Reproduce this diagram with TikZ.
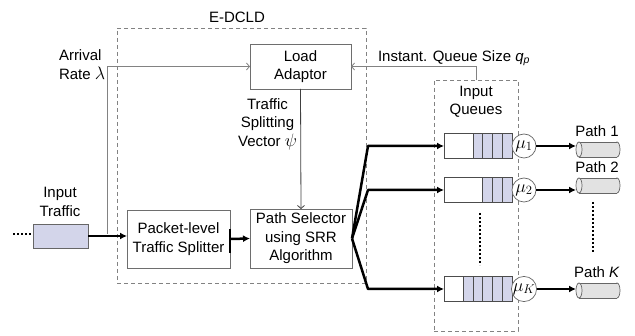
\RequirePackage{fix-cm}
\documentclass[tikz,border=0pt]{standalone}
\usepackage{fontspec}
\setmainfont{Liberation Sans}
\usetikzlibrary{arrows.meta}
\definecolor{lav}{RGB}{211,213,234}
\definecolor{cylc}{RGB}{226,226,226}
\definecolor{boxc}{RGB}{110,110,110}
\definecolor{dashc}{RGB}{130,130,130}
\newcommand\qcells[2]{%
  \fill[lav] ([xshift=-#2*9.75pt]#1.north east) rectangle (#1.south east);
  \foreach \k in {1,...,#2}{\draw[qline] ([xshift=-\k*9.75pt]#1.north east) -- ([xshift=-\k*9.75pt]#1.south east);}
  \draw[qline] (#1.north west) rectangle (#1.south east);}
\newcommand\cylshape[1]{%
  \filldraw[cylline, fill=cylc] ([xshift=-3pt]#1.east) ellipse[x radius=3pt, y radius=7.5pt];
  \fill[cylc] ([xshift=3pt]#1.north west) rectangle ([xshift=-3pt]#1.south east);
  \draw[cylline] ([xshift=3pt]#1.north west) -- ([xshift=-3pt]#1.north east)
                 ([xshift=3pt]#1.south west) -- ([xshift=-3pt]#1.south east);
  \filldraw[cylline, fill=cylc!70!white] ([xshift=3pt]#1.west) ellipse[x radius=3pt, y radius=7.5pt];}
\newcommand\lgmath[1]{{\fontsize{18}{18}\selectfont$#1$}}
\begin{document}
\begin{tikzpicture}[x=1pt,y=-1pt,
  font=\fontsize{15}{18.5}\selectfont,
  every node/.style={inner sep=0pt, outer sep=0pt},
  blk/.style={draw=boxc, line width=0.8pt, fill=white, align=center},
  dbox/.style={draw=dashc, line width=0.8pt, dash pattern=on 4pt off 3pt},
  thinarr/.style={draw=dashc, line width=0.8pt, -{Straight Barb[length=3pt,width=7pt]}},
  thickarr/.style={draw=black, line width=2.5pt, -{Latex[length=7pt,width=7pt]}},
  qline/.style={draw=black!70, line width=0.7pt},
  cylline/.style={draw=black!60, line width=0.7pt},
  qbox/.style={minimum width=68pt, minimum height=25pt},
  cylbox/.style={minimum width=44pt, minimum height=15pt},
  mu/.style={circle, draw=black!60, line width=0.7pt, fill=white, minimum size=24pt, font=\fontsize{18}{18}\selectfont},
  dots/.style={line width=2pt, dash pattern=on 1.6pt off 2.4pt}
]
\useasboundingbox (0,0) rectangle (635,336);

% dashed containers
\node[dbox, minimum width=249pt, minimum height=255pt] (edcld) at (241.5,155.5) {};
\node (edcldl) at (237,17) {E-DCLD};
\node[dbox, minimum width=84pt, minimum height=251pt] (iq) at (476,205.5) {};
\node[align=center] (iql) at (476,102) {Input\\Queues};

% blocks
\node[blk, minimum width=101pt, minimum height=45pt] (load) at (300.5,66.5) {Load\\Adaptor};
\node[blk, minimum width=103pt, minimum height=58pt] (split) at (178.5,239) {Packet-level\\Traffic Splitter};
\node[blk, minimum width=102pt, minimum height=59pt] (sel) at (301,238.5) {Path Selector\\using SRR\\Algorithm};
\node[draw=black!60, line width=0.7pt, fill=lav, minimum width=55pt, minimum height=24pt] (in) at (60.5,236) {};
\node[align=center] (inl) at (60,202) {Input\\Traffic};

% labels
\node[align=left, anchor=west] (arr) at (59,64.5) {Arrival\\Rate \lgmath{\lambda}};
\node[align=center] (tsv) at (267.5,124) {Traffic\\Splitting\\Vector \lgmath{\psi}};
\node (iqs) at (454,58) {Instant. Queue Size \textit{q}\textsubscript{\textit{p}}};

% input traffic
\coordinate (dstart) at (13,234);
\draw[dots] (dstart) -- ([xshift=-2pt]in.west |- dstart);
\draw[thickarr] (in.east) -- (in.east -| split.west);
\coordinate (tap) at (107,234);
\draw[thinarr] (tap) |- (load.west);
\draw[thinarr] (iq.north) |- (load.east);
\draw[draw=black!75, line width=0.8pt, -{Straight Barb[length=3pt,width=7pt]}] (load.south) -- (sel.north);

% splitter to selector
\draw[line width=2.5pt] ([yshift=10pt]split.east) -- ([yshift=-14pt]split.east);
\draw[thickarr] (split.east) -- (sel.west);

% queues
\node[qbox] (q1) at (478,146) {};
\node[qbox] (q2) at (478,190) {};
\node[qbox] (qK) at (478,289) {};
\qcells{q1}{4}
\qcells{q2}{3}
\qcells{qK}{5}

\node[mu] (m1) at (524,146) {$\mu_1$};
\node[mu] (m2) at (524,190) {$\mu_2$};
\node[mu] (mK) at (524,289) {$\mu_K$};

\node[cylbox] (c1) at (598,149.5) {};
\node[cylbox] (c2) at (598,185.5) {};
\node[cylbox] (cK) at (598,290.5) {};
\cylshape{c1}
\cylshape{c2}
\cylshape{cK}

\node (p1) at (597,131) {Path 1};
\node (p2) at (597,167) {Path 2};
\node (pK) at (597,272) {Path \textit{K}};

% selector to queues
\draw[thickarr, line join=round] (sel.east) -- ([xshift=-76pt]q1.west) -- (q1.west);
\draw[thickarr, line join=round] (sel.east) -- ([xshift=-76pt]q2.west) -- (q2.west);
\draw[thickarr, line join=round] (sel.east) -- ([xshift=-76pt]qK.west) -- (qK.west);

% service to paths
\draw[thickarr] (m1.east) -- (m1.east -| c1.west);
\draw[thickarr] (m2.east) -- (m2.east -| c2.west);
\draw[thickarr] (mK.east) -- (mK.east -| cK.west);

% ellipsis dots
\coordinate (vd1) at (480,213);
\coordinate (vd2) at (480,265);
\draw[dots] (vd1) -- (vd2);
\coordinate (vd3) at (593,202);
\coordinate (vd4) at (593,253);
\draw[dots] (vd3) -- (vd4);
\end{tikzpicture}
\end{document}
